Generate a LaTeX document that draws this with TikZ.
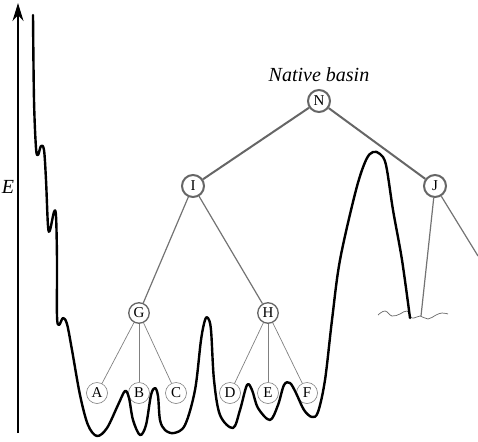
\documentclass[tikz,border=0pt]{standalone}
\usepackage{fontspec}
\setmainfont{Liberation Serif}
\usetikzlibrary{arrows.meta}
\begin{document}
\begin{tikzpicture}[x=1pt,y=-1pt,
  nodefont/.style={font=\rmfamily\fontsize{15}{15}\selectfont},
  bignode/.style={circle,draw=black!60,line width=2pt,fill=white,minimum size=22pt,inner sep=0pt,nodefont},
  midnode/.style={circle,draw=black!60,line width=1.3pt,fill=white,minimum size=20.5pt,inner sep=0pt,nodefont},
  leafnode/.style={circle,draw=black!50,line width=0.6pt,fill=white,minimum size=21pt,inner sep=0pt,nodefont},
  topedge/.style={draw=black!60,line width=2pt},
  midedge/.style={draw=black!55,line width=1.2pt},
  leafedge/.style={draw=black!50,line width=0.7pt},
  landscape/.style={line width=2.4pt,line join=round,line cap=round},
  wave/.style={draw=black!60,line width=0.7pt}]
\useasboundingbox (0,0) rectangle (478,441);

% axis
\coordinate (axbot) at (18,433);
\coordinate (axtop) at (18,3);
\draw[line width=2pt,-{Stealth[length=18pt,width=11pt]}] (axbot) -- (axtop);
\node[font=\rmfamily\itshape\fontsize{20}{20}\selectfont] (elabel) at (8,187) {E};

% tree nodes
\node[font=\rmfamily\itshape\fontsize{20}{20}\selectfont] (title) at (319,75) {Native basin};
\node[bignode] (nN) at (319,101) {N};
\node[bignode] (nI) at (193,186) {I};
\node[bignode] (nJ) at (435,186) {J};
\node[midnode] (nG) at (139,313) {G};
\node[midnode] (nH) at (268,313) {H};
\node[leafnode] (nA) at (97,393) {A};
\node[leafnode] (nB) at (139,393) {B};
\node[leafnode] (nC) at (176,393) {C};
\node[leafnode] (nD) at (230,393) {D};
\node[leafnode] (nE) at (268,393) {E};
\node[leafnode] (nF) at (307,393) {F};
\coordinate (jend) at (421,316);
\coordinate (jout) at (478,256);

% edges
\draw[topedge] (nN) -- (nI);
\draw[topedge] (nN) -- (nJ);
\draw[midedge] (nI) -- (nG);
\draw[midedge] (nI) -- (nH);
\draw[midedge] (nJ) -- (jend);
\draw[midedge] (nJ) -- (jout);
\draw[leafedge] (nG) -- (nA);
\draw[leafedge] (nG) -- (nB);
\draw[leafedge] (nG) -- (nC);
\draw[leafedge] (nH) -- (nD);
\draw[leafedge] (nH) -- (nE);
\draw[leafedge] (nH) -- (nF);

% wavy ground
\draw[wave] plot[smooth,tension=0.7] coordinates {(378,315) (385,311) (392,316) (400,314) (407,311) (412,318) (420,316) (428,319) (436,315) (442,313) (448,314)};

% energy landscape
\draw[landscape] plot[smooth,tension=0.55] coordinates {
(33,15) (34,100) (36,148) (38,155) (41,146) (44,150) (46,180) (48,226) (50,230) (54,212) (56,216) (57,260) (57,316) (59,325) (63,318) (67,324) (72,350) (80,395) (88,425) (97,436) (107,428) (118,405) (125,391) (129,398) (133,420) (140,435) (146,425) (151,395) (155,388) (158,396) (160,420) (165,430) (174,433) (185,425) (195,390) (201,340) (205,320) (208,318) (211,330) (214,380) (220,415) (233,428) (240,410) (247,385) (252,390) (258,408) (270,420) (278,405) (284,385) (290,383) (296,393) (304,410) (312,417) (318,412) (325,380) (332,320) (340,260) (356,190) (366,160) (373,152) (380,154) (386,165) (393,210) (402,260) (410,318)};
\end{tikzpicture}
\end{document}
